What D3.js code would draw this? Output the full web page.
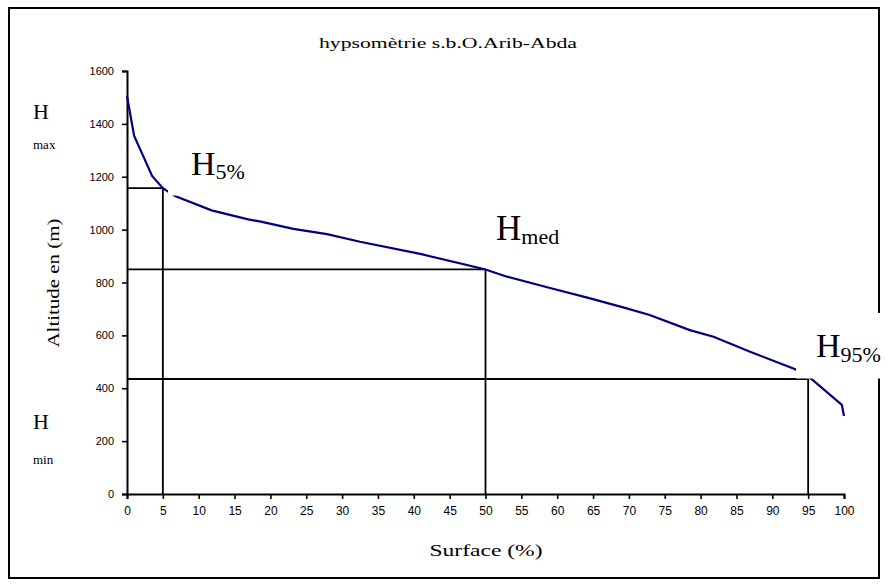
<!DOCTYPE html>
<html><head><meta charset="utf-8">
<script src="https://cdn.jsdelivr.net/npm/d3@7/dist/d3.min.js"></script>
<style>body{margin:0;background:#fff}svg{display:block}</style>
</head><body>
<svg id="c" width="887" height="586"></svg>
<script>
const title = "hypsomètrie s.b.O.Arib-Abda";
const xTitle = "Surface  (%)";
const yTitle = "Altitude en (m)";
const surface  = [0, 1.0, 3.5, 5.0, 6.7, 11.8, 16.9, 18.5, 23.2, 27.9, 32.5, 40.9, 49.9, 53.0, 59.0, 64.6, 69.7, 72.9, 78.5, 81.8, 86.9, 93.2, 95.5, 99.7, 100];
const altitude = [1505, 1354, 1203, 1157, 1127, 1073, 1039, 1031, 1003, 983, 954, 908, 850, 822, 779, 740, 702, 677, 620, 595, 538, 472, 434, 337, 295];
const xTicks = d3.range(0, 101, 5);
const yTicks = d3.range(0, 1601, 200);
const refNames = ["5%", "med", "95%"];
const refSurface = [5, 50, 95];
const refAltitude = [1157, 850, 435];

const svg = d3.select("#c");
const x = d3.scaleLinear().domain([0, 100]).range([127, 844]);
const y = d3.scaleLinear().domain([0, 1600]).range([494, 71]);

// outer frame
svg.append("rect").attr("x", 9).attr("y", 8).attr("width", 870).attr("height", 570)
  .attr("fill", "none").attr("stroke", "#000").attr("stroke-width", 2);

// title
svg.append("text").attr("x", 448).attr("y", 48).attr("text-anchor", "middle")
  .attr("font-family", "Liberation Serif, Times New Roman, serif").attr("font-size", 15)
  .attr("textLength", 258).attr("lengthAdjust", "spacingAndGlyphs").text(title);

// axes
const yAxis = svg.append("g").attr("transform", "translate(127,0)")
  .call(d3.axisLeft(y).tickValues(yTicks).tickSize(5).tickPadding(8).tickFormat(d3.format("d")));
const xAxis = svg.append("g").attr("transform", "translate(0,494)")
  .call(d3.axisBottom(x).tickValues(xTicks).tickSize(5).tickPadding(7).tickFormat(d3.format("d")));
[yAxis, xAxis].forEach(g => {
  g.select(".domain").attr("stroke", "#000").attr("stroke-width", 2);
  g.selectAll(".tick line").attr("stroke", "#000").attr("stroke-width", 1.6);
  g.selectAll("text").attr("fill", "#000");
});
yAxis.selectAll("text").attr("font-family", "Liberation Sans, Arial, sans-serif").attr("font-size", 11);
xAxis.selectAll("text").attr("font-family", "Liberation Sans Narrow, Arial Narrow, Liberation Sans, sans-serif").attr("font-size", 12);

// axis titles
svg.append("text").attr("x", 486).attr("y", 556).attr("text-anchor", "middle")
  .attr("font-family", "Liberation Serif, Times New Roman, serif").attr("font-size", 17)
  .attr("textLength", 113).attr("lengthAdjust", "spacingAndGlyphs").text(xTitle);
svg.append("text").attr("transform", "translate(59,283) rotate(-90)").attr("text-anchor", "middle")
  .attr("font-family", "Liberation Serif, Times New Roman, serif").attr("font-size", 16)
  .attr("textLength", 129).attr("lengthAdjust", "spacingAndGlyphs").text(yTitle);

// reference lines
const refs = refSurface.map((s, i) => ({s, a: refAltitude[i]}));
refs.forEach(r => {
  svg.append("line").attr("x1", x(0)).attr("x2", x(r.s)).attr("y1", y(r.a)).attr("y2", y(r.a))
    .attr("stroke", "#000").attr("stroke-width", 1.8);
  svg.append("line").attr("x1", x(r.s)).attr("x2", x(r.s)).attr("y1", y(r.a)).attr("y2", y(0))
    .attr("stroke", "#000").attr("stroke-width", 1.8);
});

// curve
const pts = surface.map((s, i) => [s, altitude[i]]);
svg.append("path").datum(pts)
  .attr("d", d3.line().x(d => x(d[0])).y(d => y(d[1])))
  .attr("fill", "none").attr("stroke", "#000080").attr("stroke-width", 2.2);

// label boxes (white backgrounds of text boxes)
svg.append("rect").attr("x", 168).attr("y", 135).attr("width", 92).attr("height", 60.5).attr("fill", "#fff");
svg.append("rect").attr("x", 796).attr("y", 313).attr("width", 91).attr("height", 65.5).attr("fill", "#fff");

const serif = "Liberation Serif, Times New Roman, serif";
function hLabel(px, py, big, sub, dy, txt) {
  const t = svg.append("text").attr("x", px).attr("y", py).attr("font-family", serif).attr("font-size", big);
  t.append("tspan").text("H");
  t.append("tspan").attr("font-size", sub).attr("dy", dy).text(txt);
}
hLabel(191, 175, 34, 22, 4, refNames[0]);
hLabel(496, 240, 35, 22, 4, refNames[1]);
hLabel(816, 357, 34, 22, 5, refNames[2]);

// Hmax / Hmin
function sideLabel(py, sub, subY) {
  svg.append("text").attr("x", 33).attr("y", py).attr("font-family", serif).attr("font-size", 22).text("H");
  svg.append("text").attr("x", 33).attr("y", subY).attr("font-family", serif).attr("font-size", 13).text(sub);
}
sideLabel(119, "max", 149);
sideLabel(429, "min", 464);
</script>
</body></html>
